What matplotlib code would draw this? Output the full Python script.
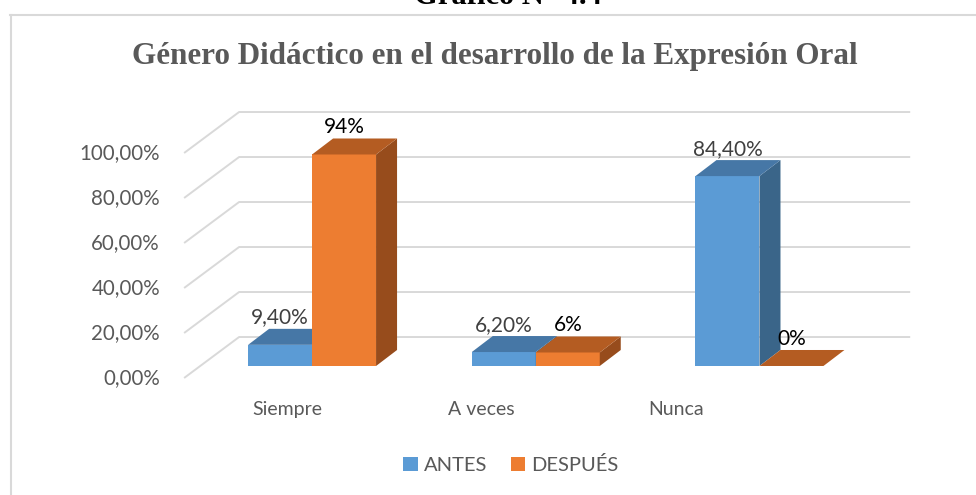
import matplotlib
matplotlib.use('Agg')
import matplotlib.pyplot as plt
from matplotlib.patches import Polygon, Patch
from matplotlib.lines import Line2D

# datos del grafico
categorias = ['Siempre', 'A veces', 'Nunca']
series = ['ANTES', 'DESPUÉS']
antes = [9.4, 6.2, 84.4]
despues = [94, 6, 0]
etiquetas_antes = ['9,40%', '6,20%', '84,40%']
etiquetas_despues = ['94%', '6%', '0%']
ticks_y = [0, 20, 40, 60, 80, 100]
ticks_y_txt = ['0,00%', '20,00%', '40,00%', '60,00%', '80,00%', '100,00%']

# colores: frente, arriba, lado
col_azul = ('#5B9BD5', '#4677A6', '#3A6589')
col_naranja = ('#ED7D31', '#B45C22', '#974C1C')
gris_txt = '#595959'

plt.rcParams['font.family'] = ['Lato', 'DejaVu Sans']

fig = plt.figure(figsize=(9.76, 4.95), dpi=100)
ax = fig.add_axes([0, 0, 1, 1])
ax.set_xlim(-1.323, 3.040)
ax.set_ylim(-52, 168)
ax.axis('off')

# profundidad (oblicua)
DX, DY = 0.2459, 18.22      # pared completa
f0 = 0.293                  # posicion del frente de las barras
bdx, bdy = 0.0939, 7.11     # grosor de la barra
W = 0.286                   # ancho de cada barra
x_izq, x_der = -0.5, 2.5

# lineas de cuadricula (pared lateral + pared de fondo)
for v in ticks_y:
    ax.plot([x_izq, x_izq + DX, x_der + DX], [v, v + DY, v + DY],
            color='#D9D9D9', lw=1.4, solid_capstyle='butt', zorder=1)
for v, t in zip(ticks_y, ticks_y_txt):
    ax.text(x_izq - 0.108, v, t, ha='right', va='center', fontsize=14.8,
            color=gris_txt)


def barra(xl, v, cols):
    xr = xl + W
    y0 = f0 * DY
    y1 = y0 + v
    if v > 0:
        ax.add_patch(Polygon([(xl, y0), (xr, y0), (xr, y1), (xl, y1)],
                             closed=True, fc=cols[0], ec='none', zorder=3))
        ax.add_patch(Polygon([(xr, y0), (xr + bdx, y0 + bdy),
                              (xr + bdx, y1 + bdy), (xr, y1)],
                             closed=True, fc=cols[2], ec='none', zorder=3))
    ax.add_patch(Polygon([(xl, y1), (xr, y1), (xr + bdx, y1 + bdy),
                          (xl + bdx, y1 + bdy)],
                         closed=True, fc=cols[1], ec='none', zorder=3))
    return (xl + xr) / 2, y1 + bdy


for i in range(len(categorias)):
    xc = i + f0 * DX
    cx, top = barra(xc - W, antes[i], col_azul)
    ax.text(cx, top + 0.6, etiquetas_antes[i], ha='center', va='bottom',
            fontsize=15, color='#404040', zorder=5)
    cx, top = barra(xc, despues[i], col_naranja)
    ax.text(cx, top + 0.6, etiquetas_despues[i], ha='center', va='bottom',
            fontsize=15, color='black', zorder=5)
    ax.text(i * 0.8695 - 0.04, -13.8, categorias[i], ha='center',
            va='center', fontsize=14, color=gris_txt)

# titulo
fig.text(0.507, 1 - 56 / 495, 'Género Didáctico en el desarrollo de la Expresión Oral',
         ha='center', va='center', fontsize=22.4, fontweight='bold',
         family='Liberation Serif', color=gris_txt)
fig.text(0.52, 1 - 3.5 / 495, 'Gráfico N° 4.4', ha='center', va='baseline',
         fontsize=22, fontweight='bold', family='Liberation Serif', color='black')

# borde del grafico
fig.add_artist(Line2D([10 / 976, 1], [1 - 14.5 / 495] * 2, color='#D9D9D9', lw=1.5))
fig.add_artist(Line2D([10.5 / 976] * 2, [0, 1 - 14.5 / 495], color='#D9D9D9', lw=1.5))

# leyenda
handles = [Patch(fc=col_azul[0]), Patch(fc=col_naranja[0])]
fig.legend(handles, series, loc='center', bbox_to_anchor=(0.5236, 1 - 465 / 495),
           ncol=2, frameon=False, fontsize=14.5, handlelength=0.7,
           handleheight=0.7, handletextpad=0.3, columnspacing=1.2,
           labelcolor=gris_txt)

fig.savefig('out.png', dpi=100)
